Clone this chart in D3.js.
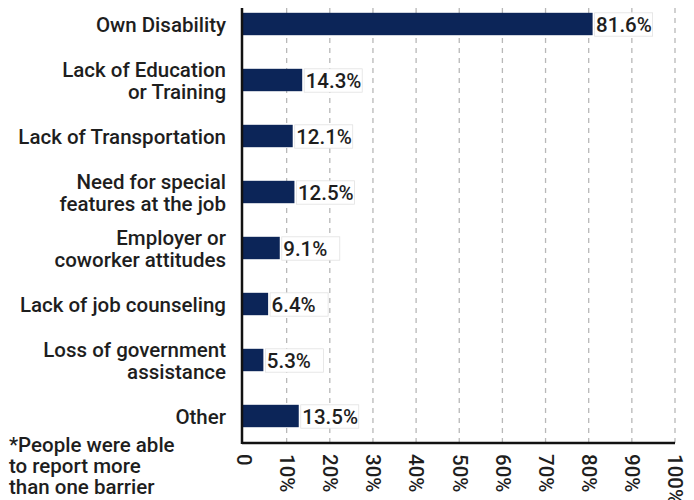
<!DOCTYPE html>
<html lang="en">
<head>
<meta charset="UTF-8">
<title>Barriers to employment</title>
<script src="https://cdn.jsdelivr.net/npm/d3@7"></script>
<style>
    body { margin: 0; background: #fff; }
    svg text { font-family: Roboto, sans-serif; font-weight: 500; fill: #1e1e1e; }
</style>
</head>
<body>
<div id="chart"></div>
<script>
    // categories (two-line labels split with "|")
    const categories = [
        "Own Disability",
        "Lack of Education|or Training",
        "Lack of Transportation",
        "Need for special|features at the job",
        "Employer or|coworker attitudes",
        "Lack of job counseling",
        "Loss of government|assistance",
        "Other"
    ];
    const values = [81.6, 14.3, 12.1, 12.5, 9.1, 6.4, 5.3, 13.5];
    const tickValues = [0, 10, 20, 30, 40, 50, 60, 70, 80, 90, 100];
    const tickLabels = ["0", "10%", "20%", "30%", "40%", "50%", "60%", "70%", "80%", "90%", "100%"];
    const footnote = ["*People were able", "to report more", "than one barrier"];

    const width = 694, height = 500;
    const axisX = 242, yTop = 8, yAxis = 443;
    const fs = "20.5px";

    const svg = d3.select("#chart").append("svg")
        .attr("width", width)
        .attr("height", height);

    const x = d3.scaleLinear().domain([0, 100]).range([243.5, 675]);
    const y = d3.scaleBand()
        .domain(categories)
        .range([-4, 444])
        .paddingInner(0.6)
        .paddingOuter(0.3);

    // dashed grid lines
    svg.append("g")
        .selectAll("line")
        .data(tickValues.slice(1))
        .enter()
        .append("line")
        .attr("x1", d => x(d))
        .attr("x2", d => x(d))
        .attr("y1", yTop)
        .attr("y2", yAxis)
        .attr("stroke", "#b8b8b8")
        .attr("stroke-width", 1.3)
        .attr("stroke-dasharray", "5,5");

    // bars (the original draws them a few px short of the grid)
    svg.append("g")
        .selectAll("rect")
        .data(values)
        .enter()
        .append("rect")
        .attr("x", axisX)
        .attr("y", (d, i) => y(categories[i]))
        .attr("width", d => x(d) - axisX - 3)
        .attr("height", y.bandwidth())
        .attr("fill", "#0c2558");

    // value labels in small boxes
    const vl = svg.append("g")
        .selectAll("g")
        .data(values)
        .enter()
        .append("g")
        .attr("transform", (d, i) => "translate(" + (x(d) - 1) + "," + y(categories[i]) + ")");
    vl.append("rect")
        .attr("width", 58)
        .attr("height", y.bandwidth() + 1)
        .attr("fill", "#fff")
        .attr("stroke", "#e2e2e2")
        .attr("stroke-width", 0.8);
    vl.append("text")
        .attr("x", 1.5)
        .attr("y", y.bandwidth() / 2 + 8)
        .style("font-size", fs)
        .text(d => d + "%");

    // category labels
    svg.append("g")
        .selectAll("text")
        .data(categories)
        .enter()
        .append("text")
        .attr("text-anchor", "end")
        .style("font-size", fs)
        .attr("transform", d => "translate(226," + (y(d) + y.bandwidth() / 2) + ")")
        .each(function (d) {
            const lines = d.split("|");
            const t = d3.select(this);
            lines.forEach((s, j) => {
                t.append("tspan")
                    .attr("x", 0)
                    .attr("y", 8 + (j - (lines.length - 1) / 2) * 22)
                    .text(s);
            });
        });

    // x axis
    const xAxis = d3.axisBottom(x)
        .tickValues(tickValues)
        .tickFormat((d, i) => tickLabels[i])
        .tickSize(0)
        .tickPadding(0);
    const ax = svg.append("g")
        .attr("transform", "translate(0," + yAxis + ")")
        .call(xAxis);
    ax.select(".domain").attr("d", "M" + axisX + ",0H" + x(100))
        .attr("stroke", "#111").attr("stroke-width", 2.5);
    ax.selectAll("text")
        .attr("transform", "translate(0,11) rotate(90)")
        .attr("x", 0)
        .attr("y", 0)
        .attr("dy", "0.35em")
        .attr("text-anchor", "start")
        .attr("font-family", null)
        .attr("font-size", null)
        .style("font-size", fs)
        .attr("fill", "#1e1e1e");

    // y axis line
    svg.append("line")
        .attr("x1", axisX).attr("x2", axisX)
        .attr("y1", yTop).attr("y2", yAxis + 1)
        .attr("stroke", "#111")
        .attr("stroke-width", 2.5);

    // footnote
    svg.append("g")
        .selectAll("text")
        .data(footnote)
        .enter()
        .append("text")
        .attr("x", 9)
        .attr("y", (d, i) => 452 + i * 21)
        .style("font-size", fs)
        .text(d => d);
</script>
</body>
</html>
